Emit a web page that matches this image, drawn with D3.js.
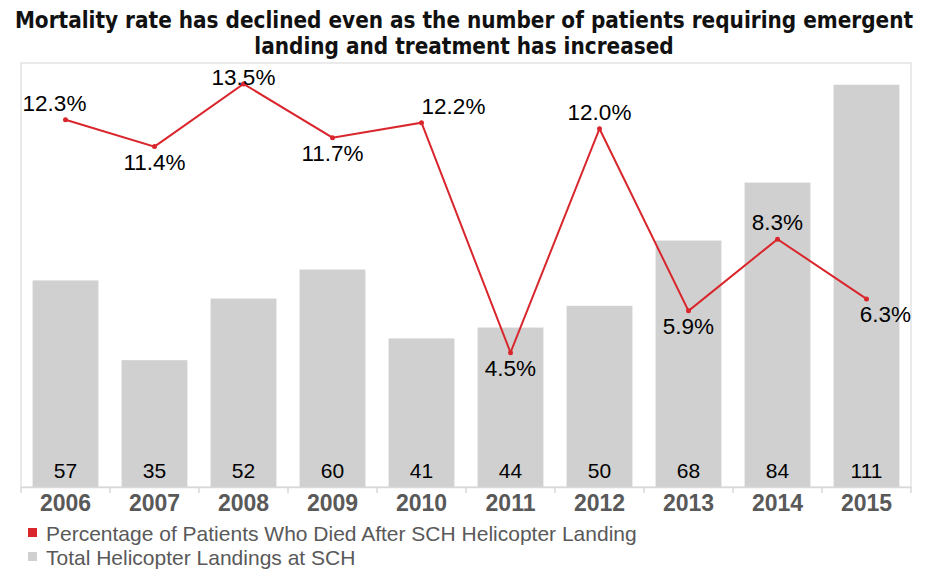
<!DOCTYPE html>
<html>
<head>
<meta charset="utf-8">
<script src="https://cdn.jsdelivr.net/npm/d3@7"></script>
<style>
  body { margin: 0; background: #fff; }
  svg text { font-family: "Liberation Sans", Arial, sans-serif; }
</style>
</head>
<body>
<div id="chart"></div>
<script>
const years = ["2006", "2007", "2008", "2009", "2010", "2011", "2012", "2013", "2014", "2015"];
const landings = [57, 35, 52, 60, 41, 44, 50, 68, 84, 111];
const mortality = [12.3, 11.4, 13.5, 11.7, 12.2, 4.5, 12.0, 5.9, 8.3, 6.3];
// where each percentage label sits relative to its point
const labelSide = ["upleft", "below", "top", "below", "upright", "below", "above", "below", "above", "downright"];
const titleLines = [
    "Mortality rate has declined even as the number of patients requiring emergent",
    "landing and treatment has increased"
];
const legendItems = [
    { label: "Percentage of Patients Who Died After SCH Helicopter Landing", color: "#d9262c" },
    { label: "Total Helicopter Landings at SCH", color: "#d0d0d0" }
];

const svgWidth = 928;
const svgHeight = 573;
const margin = { top: 63, right: 17, bottom: 86, left: 21 };
const width = svgWidth - margin.left - margin.right;
const height = svgHeight - margin.top - margin.bottom;

const svg = d3.select("#chart")
    .append("svg")
    .attr("width", svgWidth)
    .attr("height", svgHeight);

// title (condensed bold, squeezed slightly to fit the width)
svg.append("g")
    .attr("transform", "translate(464, 0) scale(0.95, 1)")
    .selectAll("text")
    .data(titleLines)
    .enter()
    .append("text")
    .attr("x", 0)
    .attr("y", (d, i) => 28 + i * 26)
    .attr("text-anchor", "middle")
    .style("font-family", "'DejaVu Sans', sans-serif")
    .style("font-stretch", "condensed")
    .style("font-weight", "bold")
    .style("font-size", "23.5px")
    .attr("fill", "#111")
    .text(d => d);

const chartGroup = svg.append("g")
    .attr("transform", `translate(${margin.left}, ${margin.top})`);

// plot frame
chartGroup.append("rect")
    .attr("x", 0)
    .attr("y", 0)
    .attr("width", width)
    .attr("height", height)
    .attr("fill", "none")
    .attr("stroke", "#e3e3e3")
    .attr("stroke-width", 1.5);

const xScale = d3.scaleBand()
    .domain(years)
    .range([0, width])
    .paddingInner(0.26)
    .paddingOuter(0.13);

const yBars = d3.scaleLinear()
    .domain([0, 117])
    .range([height, 0]);

const yRate = d3.scaleLinear()
    .domain([0, 14.2])
    .range([height, 0]);

// bars
chartGroup.selectAll(".bar")
    .data(landings)
    .enter()
    .append("rect")
    .attr("class", "bar")
    .attr("x", (d, i) => xScale(years[i]))
    .attr("y", d => yBars(d))
    .attr("width", xScale.bandwidth())
    .attr("height", d => height - yBars(d))
    .attr("fill", "#d0d0d0");

// bar values at the base
chartGroup.selectAll(".barLabel")
    .data(landings)
    .enter()
    .append("text")
    .attr("class", "barLabel")
    .attr("x", (d, i) => xScale(years[i]) + xScale.bandwidth() / 2)
    .attr("y", height - 9)
    .attr("text-anchor", "middle")
    .style("font-size", "21px")
    .attr("fill", "#000")
    .text(d => d);

// x axis
const bottomAxis = d3.axisBottom(xScale).tickSize(0).tickPadding(8);
const xAxis = chartGroup.append("g")
    .attr("transform", `translate(0, ${height})`)
    .call(bottomAxis);
xAxis.select(".domain").attr("stroke", "#d9d9d9").attr("stroke-width", 1.5);
xAxis.selectAll("text")
    .style("font-family", "'Liberation Sans', Arial, sans-serif")
    .style("font-size", "23px")
    .style("font-weight", "bold")
    .attr("fill", "#595959");

// separator ticks between categories
const step = xScale.step();
chartGroup.append("g")
    .selectAll("line")
    .data(d3.range(years.length + 1))
    .enter()
    .append("line")
    .attr("x1", i => i * step)
    .attr("x2", i => i * step)
    .attr("y1", height)
    .attr("y2", height + 6)
    .attr("stroke", "#d9d9d9")
    .attr("stroke-width", 1.5);

// mortality line
const cx = (d, i) => xScale(years[i]) + xScale.bandwidth() / 2;
const line = d3.line()
    .x(cx)
    .y(d => yRate(d));

chartGroup.append("path")
    .datum(mortality)
    .attr("d", line)
    .attr("fill", "none")
    .attr("stroke", "#d9262c")
    .attr("stroke-width", 2);

chartGroup.selectAll(".dot")
    .data(mortality)
    .enter()
    .append("circle")
    .attr("class", "dot")
    .attr("cx", cx)
    .attr("cy", d => yRate(d))
    .attr("r", 2.5)
    .attr("fill", "#d9262c");

const offsets = {
    above: [0, -9],
    top: [0, 1],
    below: [0, 23],
    upleft: [-11, -9],
    upright: [32, -9],
    downright: [19, 23]
};

chartGroup.selectAll(".rateLabel")
    .data(mortality)
    .enter()
    .append("text")
    .attr("class", "rateLabel")
    .attr("x", (d, i) => cx(d, i) + offsets[labelSide[i]][0])
    .attr("y", d => yRate(d))
    .attr("dy", (d, i) => offsets[labelSide[i]][1])
    .attr("text-anchor", "middle")
    .style("font-size", "22.5px")
    .attr("fill", "#000")
    .text(d => d.toFixed(1) + "%");

// legend
const legend = svg.append("g")
    .attr("transform", "translate(28, 537)");

legend.selectAll("rect")
    .data(legendItems)
    .enter()
    .append("rect")
    .attr("x", 0)
    .attr("y", (d, i) => i * 24 - 9)
    .attr("width", 9)
    .attr("height", 9)
    .attr("fill", d => d.color);

legend.selectAll("text")
    .data(legendItems)
    .enter()
    .append("text")
    .attr("x", 18)
    .attr("y", (d, i) => i * 24 + 4)
    .style("font-size", "21px")
    .attr("fill", "#595959")
    .text(d => d.label);
</script>
</body>
</html>
